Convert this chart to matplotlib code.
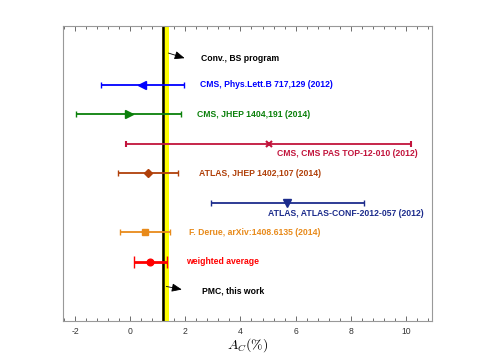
import matplotlib
matplotlib.use("Agg")
import matplotlib.pyplot as plt
from matplotlib.ticker import MultipleLocator

plt.rcParams["mathtext.fontset"] = "cm"
plt.rcParams["axes.unicode_minus"] = False

# Data (A_C in %)
labels = ["CMS, Phys.Lett.B 717,129 (2012)", "CMS, JHEP 1404,191 (2014)",
          "CMS, CMS PAS TOP-12-010 (2012)", "ATLAS, JHEP 1402,107 (2014)",
          "ATLAS, ATLAS-CONF-2012-057 (2012)", "F. Derue, arXiv:1408.6135 (2014)",
          "weighted average"]
values = [0.42, -0.05, 5.02, 0.64, 5.69, 0.54, 0.72]
err_lo = [1.48, 1.90, 5.18, 1.10, 2.77, 0.90, 0.60]
err_hi = [1.53, 1.88, 5.18, 1.10, 2.81, 0.90, 0.63]
levels = [8, 7, 6, 5, 4, 3, 2]
colors = ["#0000ff", "#0a800a", "#c2143c", "#b0400a", "#1c2c8c", "#e88a1a", "#ff0000"]
markers = ["<", ">", "x", "D", "v", "s", "o"]
label_x = [2.54, 2.44, 5.34, 2.48, 5.01, 2.15, 2.03]
label_y = [8, 7, 5.66, 5, 3.65, 3, 2]

pmc_value = 1.19
pmc_band = (1.16, 1.42)

fig = plt.figure(figsize=(4.8, 3.6), dpi=100)
ax = fig.add_axes([0.1306, 0.1092, 0.7694, 0.8186])

ax.axvspan(pmc_band[0], pmc_band[1], color="#ffff00", zorder=1, lw=0)
ax.axvline(pmc_value, color="black", lw=1.8, zorder=2)

msizes = {"<": 5.5, ">": 5.5, "x": 4.5, "D": 4.5, "v": 5.5, "s": 4.2, "o": 4.8}
for i in range(len(values)):
    lw = 2.0 if i == 6 else 1.3
    cs = 4.0 if i == 6 else 2.5
    ax.errorbar(values[i], levels[i], xerr=[[err_lo[i]], [err_hi[i]]],
                fmt=markers[i], color=colors[i], ecolor=colors[i], lw=lw,
                capsize=cs, capthick=lw, markersize=msizes[markers[i]],
                mew=1.5 if markers[i] == "x" else 1, zorder=3)
    ax.text(label_x[i], label_y[i], labels[i], color=colors[i], fontsize=6.2,
            fontweight="bold", family="Liberation Sans", va="center", ha="left")

ax.text(2.58, 8.9, "Conv., BS program", color="black", fontsize=6.2,
        fontweight="bold", family="Liberation Sans", va="center", ha="left")
ax.text(2.61, 1.02, "PMC, this work", color="black", fontsize=6.2,
        fontweight="bold", family="Liberation Sans", va="center", ha="left")

arrowprops = dict(arrowstyle="-|>,head_length=0.6,head_width=0.25", color="black", lw=0.6)
ax.annotate("", xy=(2.07, 8.88), xytext=(1.29, 9.11), arrowprops=arrowprops)
ax.annotate("", xy=(1.97, 1.04), xytext=(1.21, 1.18), arrowprops=arrowprops)

ax.set_xlim(-2.45, 10.95)
ax.set_ylim(0, 10)
ax.set_yticks([])
ax.xaxis.set_major_locator(MultipleLocator(2))
ax.xaxis.set_minor_locator(MultipleLocator(0.4))
ax.tick_params(axis="x", which="both", direction="in", top=True, bottom=True,
               color="#555555", labelsize=6.2, labelcolor="#333333", pad=4.5)
ax.tick_params(axis="x", which="major", length=3.5, width=0.6)
ax.tick_params(axis="x", which="minor", length=2, width=0.6)
for s in ax.spines.values():
    s.set_color("#999999")
    s.set_linewidth(0.8)
ax.set_xlabel(r"$A_C(\%)$", fontsize=10, labelpad=0)
for t in ax.get_xticklabels():
    t.set_family("Liberation Sans")

fig.savefig("out.png", dpi=100)
